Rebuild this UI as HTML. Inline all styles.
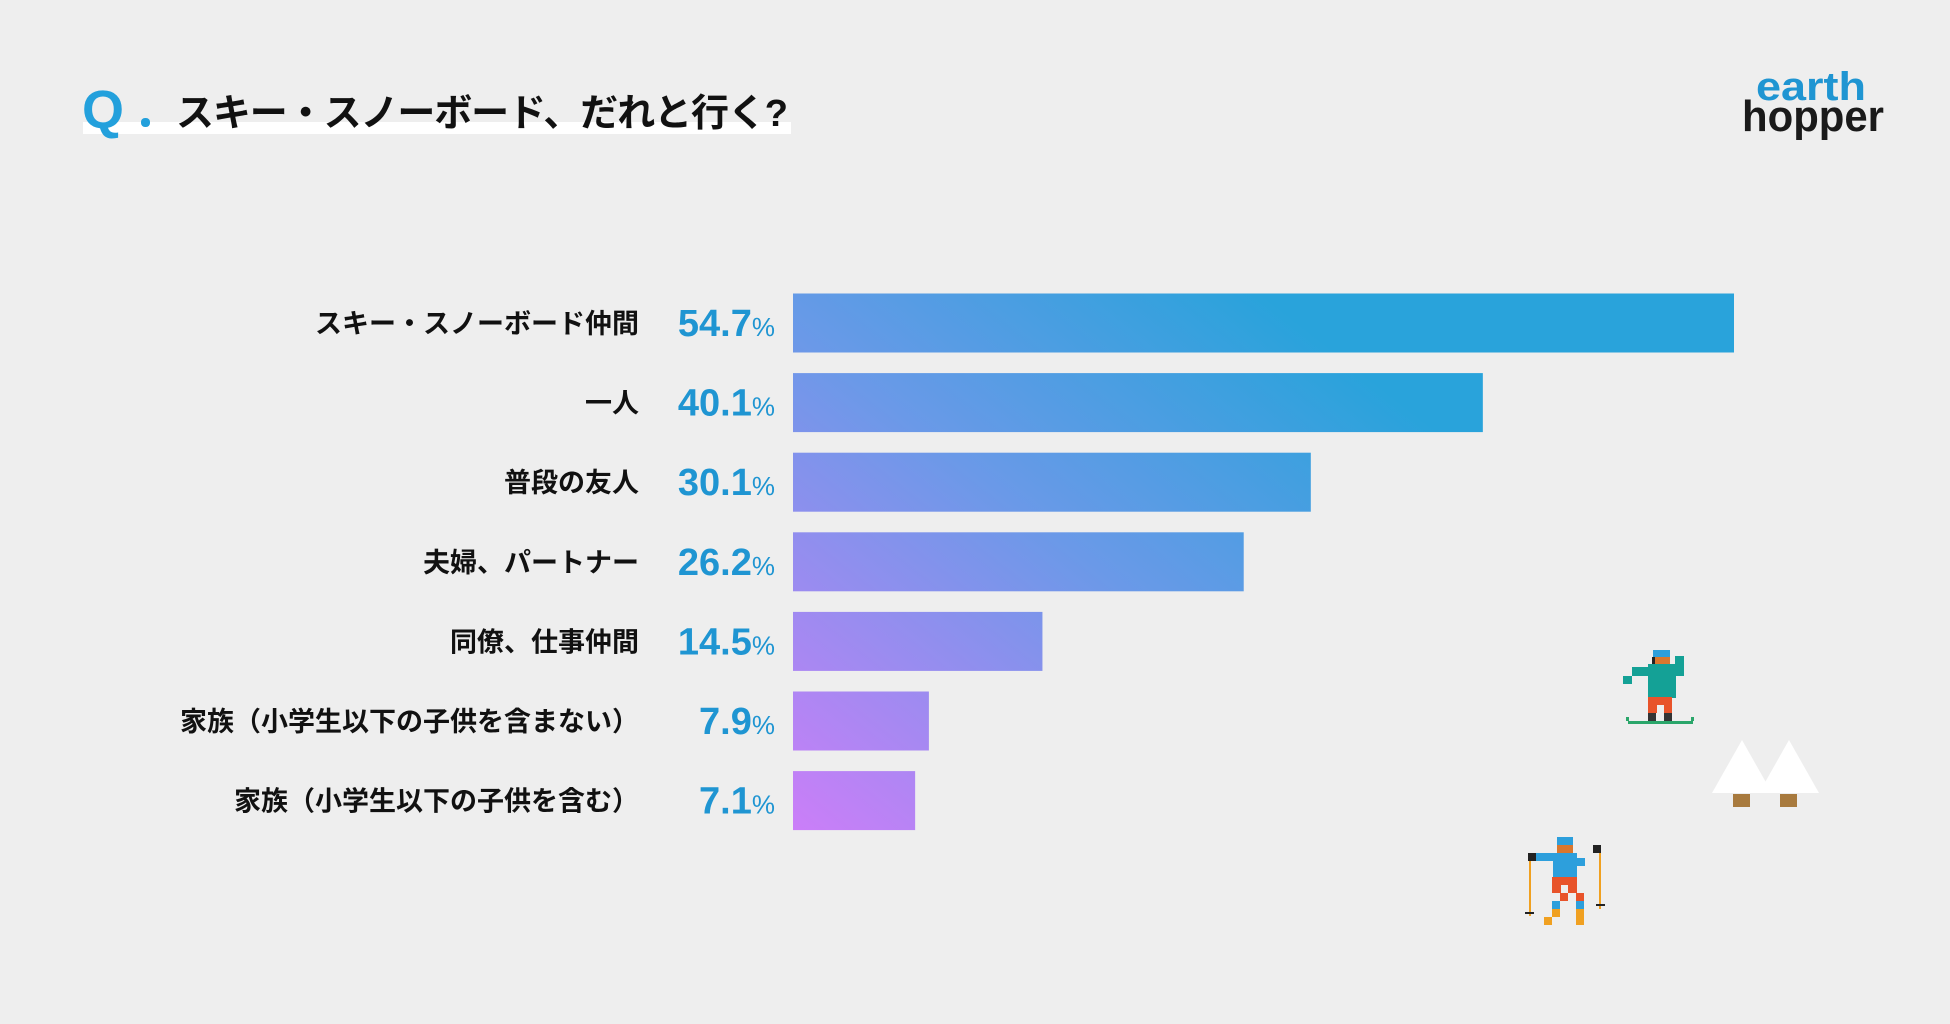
<!DOCTYPE html>
<html><head><meta charset="utf-8">
<style>
html,body{margin:0;padding:0;background:#eeeeee;}
body{width:1950px;height:1024px;overflow:hidden;position:relative;font-family:"Liberation Sans","Noto Sans CJK JP",sans-serif;}
</style></head>
<body>
<svg id="chart" width="1950" height="1024" viewBox="0 0 1950 1024" xmlns="http://www.w3.org/2000/svg" style="position:absolute;left:0;top:0">
<defs>
<linearGradient id="barGrad" gradientUnits="userSpaceOnUse" x1="793" y1="830" x2="1230" y2="270">
<stop offset="0" stop-color="#cb7ef8"/>
<stop offset="0.55" stop-color="#6b99e8"/>
<stop offset="1" stop-color="#29a3db"/>
</linearGradient>
</defs>
<rect x="83" y="122" width="708" height="12" fill="#ffffff"/>
<text x="82" y="128" font-size="54" font-weight="bold" fill="#23a0dc" font-family="Liberation Sans, sans-serif">Q</text>
<rect x="141" y="118" width="9" height="9" rx="4" fill="#23a0dc"/>
<text x="176" y="126" font-size="38" font-weight="bold" fill="#111" textLength="612" font-family="Liberation Sans, Noto Sans CJK JP, sans-serif">スキー・スノーボード、だれと行く?</text>
<g>
<text x="1756" y="100" font-size="40" font-weight="bold" fill="#1f95d2" textLength="110" lengthAdjust="spacingAndGlyphs" font-family="Liberation Sans, sans-serif">earth</text>
<text x="1742" y="131" font-size="44" font-weight="bold" fill="#1a1a1a" textLength="142" lengthAdjust="spacingAndGlyphs" font-family="Liberation Sans, sans-serif">hopper</text>
</g>
<g id="bars"></g>
<g>
<rect x="1653" y="650" width="17" height="8" fill="#2d9fdc"/>
<rect x="1652" y="657" width="18" height="9" fill="#d9772e"/>
<rect x="1652" y="657" width="3" height="9" fill="#222"/>
<rect x="1648" y="664" width="28" height="34" fill="#14a196"/>
<rect x="1632" y="667" width="18" height="9" fill="#14a196"/>
<rect x="1623" y="676" width="9" height="8" fill="#14a196"/>
<rect x="1675" y="656" width="9" height="20" fill="#14a196"/>
<rect x="1648" y="697" width="24" height="16" fill="#e8532a"/>
<rect x="1657" y="705" width="7" height="8" fill="#eee"/>
<rect x="1648" y="713" width="8" height="8" fill="#333"/>
<rect x="1664" y="713" width="8" height="8" fill="#333"/>
<rect x="1628" y="721" width="65" height="3" fill="#2aa66a"/>
<rect x="1626" y="717" width="3" height="4" fill="#2aa66a"/>
<rect x="1691" y="717" width="3" height="4" fill="#2aa66a"/>
</g>
<g>
<polygon points="1742,740 1712,793 1772,793" fill="#ffffff"/>
<polygon points="1789,740 1759,793 1819,793" fill="#ffffff"/>
<rect x="1733" y="794" width="17" height="13" fill="#a87a3e"/>
<rect x="1780" y="794" width="17" height="13" fill="#a87a3e"/>
</g>
<g>
<rect x="1557" y="837" width="16" height="8" fill="#2d9fdc"/>
<rect x="1557" y="845" width="16" height="8" fill="#d9772e"/>
<rect x="1528" y="853" width="8" height="8" fill="#222"/>
<rect x="1536" y="853" width="24" height="8" fill="#2d9fdc"/>
<rect x="1553" y="853" width="24" height="24" fill="#2d9fdc"/>
<rect x="1576" y="858" width="9" height="8" fill="#2d9fdc"/>
<rect x="1593" y="845" width="8" height="8" fill="#222"/>
<rect x="1552" y="877" width="25" height="16" fill="#e8532a"/>
<rect x="1561" y="885" width="7" height="8" fill="#eee"/>
<rect x="1560" y="893" width="8" height="8" fill="#e8532a"/>
<rect x="1576" y="893" width="8" height="8" fill="#e8532a"/>
<rect x="1552" y="901" width="8" height="8" fill="#2d9fdc"/>
<rect x="1576" y="901" width="8" height="8" fill="#2d9fdc"/>
<rect x="1552" y="909" width="8" height="8" fill="#f0a020"/>
<rect x="1544" y="917" width="8" height="8" fill="#f0a020"/>
<rect x="1576" y="909" width="8" height="16" fill="#f0a020"/>
<rect x="1529" y="861" width="2" height="55" fill="#f0a020"/>
<rect x="1525" y="912" width="9" height="2" fill="#222"/>
<rect x="1599" y="853" width="2" height="56" fill="#f0a020"/>
<rect x="1596" y="904" width="9" height="2" fill="#222"/>
</g>
</svg>
<script>
const categories = ["スキー・スノーボード仲間","一人","普段の友人","夫婦、パートナー","同僚、仕事仲間","家族（小学生以下の子供を含まない）","家族（小学生以下の子供を含む）"];
const values = [54.7,40.1,30.1,26.2,14.5,7.9,7.1];
const valueLabels = ["54.7","40.1","30.1","26.2","14.5","7.9","7.1"];

const NS = "http://www.w3.org/2000/svg";
const x0 = 793, pxPerUnit = 941/54.7;
const yTop = 293.5, rowStep = 79.6, barH = 59;
function xScale(v){ return x0 + v*pxPerUnit; }
function yScale(i){ return yTop + i*rowStep; }
const g = document.getElementById('bars');
categories.forEach((c,i)=>{
  const y = yScale(i);
  const r = document.createElementNS(NS,'rect');
  
  
  r.setAttribute('x',x0); r.setAttribute('y',y);
  r.setAttribute('width',xScale(values[i])-x0); r.setAttribute('height',barH);
  r.setAttribute('fill','url(#barGrad)');
  g.appendChild(r);
  const t = document.createElementNS(NS,'text');
  
  
  t.setAttribute('x',639); t.setAttribute('y',y+barH/2+10);
  t.setAttribute('text-anchor','end'); t.setAttribute('font-size','27');
  t.setAttribute('font-weight','bold'); t.setAttribute('fill','#111');
  t.textContent = c;
  g.appendChild(t);
  const v = document.createElementNS(NS,'text');
  
  
  v.setAttribute('x',775); v.setAttribute('y',y+barH/2+13);
  v.setAttribute('text-anchor','end'); v.setAttribute('fill','#1f95d2');
  v.setAttribute('font-weight','bold');
  const n = document.createElementNS(NS,'tspan');
  n.setAttribute('font-size','38'); n.textContent = valueLabels[i];
  const p = document.createElementNS(NS,'tspan');
  p.setAttribute('font-size','26'); p.setAttribute('font-weight','normal'); p.textContent = '%';
  v.appendChild(n); v.appendChild(p);
  g.appendChild(v);
});
</script>
</body></html>
